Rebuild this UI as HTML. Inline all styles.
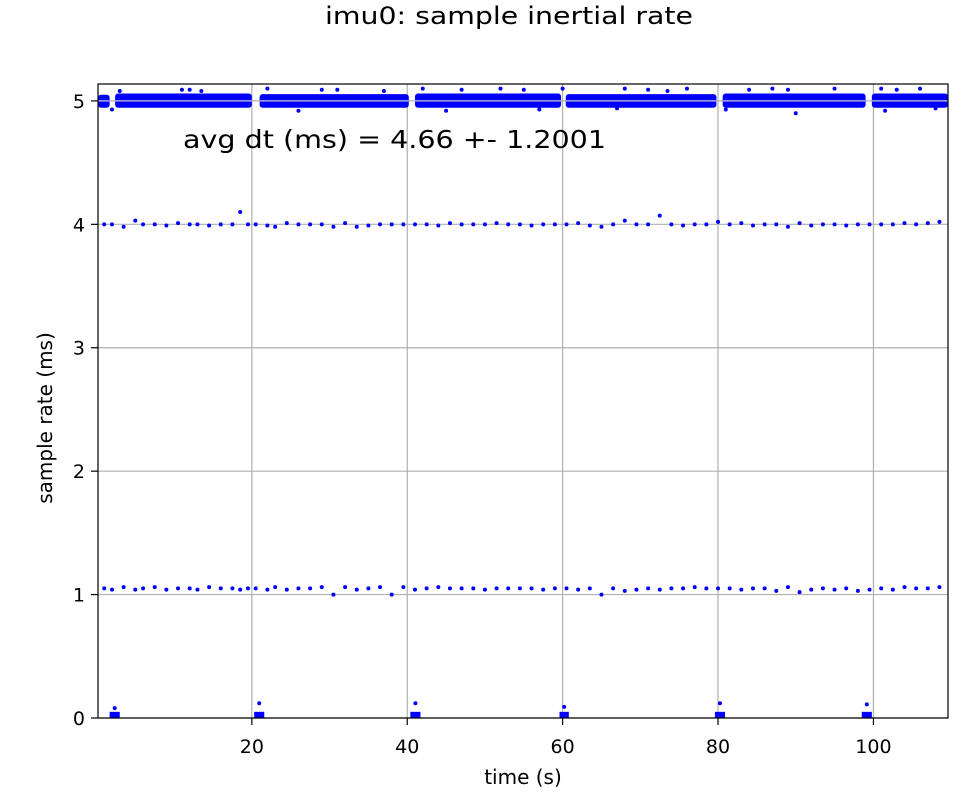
<!DOCTYPE html>
<html><head><meta charset="utf-8"><style>
body{margin:0;background:#fff;font-family:"Liberation Sans","DejaVu Sans",sans-serif;}
svg text{font-family:"DejaVu Sans","Liberation Sans",sans-serif;}
</style></head><body>
<svg id="chart" width="963" height="799" xmlns="http://www.w3.org/2000/svg">
<rect width="963" height="799" fill="#fff"/>
<text x="325" y="24" font-size="24" textLength="368" lengthAdjust="spacingAndGlyphs">imu0: sample inertial rate</text>
<g id="grid"></g>
<g id="marks"></g>
<rect x="98" y="84" width="850" height="634" fill="none" stroke="#000" stroke-width="1.2"/>
<g id="ticks"></g>
<text x="183" y="148" font-size="25" textLength="423" lengthAdjust="spacingAndGlyphs">avg dt (ms) = 4.66 +- 1.2001</text>
<text x="523" y="784" font-size="20" text-anchor="middle">time (s)</text>
<text transform="translate(52,418) rotate(-90)" font-size="20" text-anchor="middle">sample rate (ms)</text>
</svg>
<script>
const xTicks=[20,40,60,80,100];
const yTicks=[0,1,2,3,4,5];
// dense band segments near 5 ms: [start, end]
const bandStart=[0.2,2.4,21.0,41.0,60.4,80.6,99.8];
const bandEnd=[1.7,20.0,40.2,59.8,79.8,99.0,109.6];
const bandLow=[4.945,4.945,4.945,4.945,4.945,4.945,4.945];
const bandHigh=[5.05,5.06,5.055,5.06,5.055,5.06,5.06];
// outliers around band
const outT=[3,11,12,13.5,22,29,31,37,42,47,52,55,60,68,71,73.5,76,84,87,89,95,101,103,106,2,26,45,57,67,81,90,101.5,108];
const outV=[5.08,5.09,5.09,5.08,5.1,5.09,5.09,5.08,5.1,5.09,5.1,5.09,5.1,5.1,5.09,5.08,5.1,5.09,5.1,5.09,5.1,5.1,5.09,5.1,4.93,4.92,4.92,4.93,4.94,4.93,4.9,4.92,4.94];
// level near 4 ms
const l4T=[1,2,3.5,5,6,7.5,9,10.5,12,13,14.5,16,17.5,18.5,19.5,20.5,22,23,24.5,26,27.5,29,30.5,32,33.5,35,36.5,38,39.5,41,42.5,44,45.5,47,48.5,50,51.5,53,54.5,56,57.5,59,60.5,62,63.5,65,66.5,68,69.5,71,72.5,74,75.5,77,78.5,80,81.5,83,84.5,86,87.5,89,90.5,92,93.5,95,96.5,98,99.5,101,102.5,104,105.5,107,108.5];
const l4V=[4.0,4.0,3.98,4.03,4.0,4.0,3.99,4.01,4.0,4.0,3.99,4.0,4.0,4.1,4.0,4.0,3.99,3.98,4.01,4.0,4.0,4.0,3.98,4.01,3.98,3.99,4.0,4.0,4.0,4.0,4.0,3.99,4.01,4.0,4.0,4.0,4.01,4.0,4.0,3.99,4.0,4.0,4.0,4.01,3.99,3.98,4.0,4.03,4.0,4.0,4.07,4.0,3.99,4.0,4.0,4.02,4.0,4.01,3.99,4.0,4.0,3.98,4.01,3.99,4.0,4.0,3.99,4.0,4.0,4.0,4.0,4.01,4.0,4.01,4.02];
// level near 1 ms
const l1T=[1,2,3.5,5,6,7.5,9,10.5,12,13,14.5,16,17.5,18.5,19.5,20.5,22,23,24.5,26,27.5,29,30.5,32,33.5,35,36.5,38,39.5,41,42.5,44,45.5,47,48.5,50,51.5,53,54.5,56,57.5,59,60.5,62,63.5,65,66.5,68,69.5,71,72.5,74,75.5,77,78.5,80,81.5,83,84.5,86,87.5,89,90.5,92,93.5,95,96.5,98,99.5,101,102.5,104,105.5,107,108.5];
const l1V=[1.05,1.04,1.06,1.04,1.05,1.06,1.04,1.05,1.05,1.04,1.06,1.05,1.05,1.04,1.05,1.05,1.04,1.06,1.04,1.05,1.05,1.06,1.0,1.06,1.04,1.05,1.06,1.0,1.06,1.04,1.05,1.06,1.05,1.05,1.05,1.04,1.05,1.05,1.05,1.05,1.04,1.05,1.05,1.04,1.05,1.0,1.05,1.03,1.04,1.05,1.04,1.05,1.05,1.06,1.05,1.05,1.05,1.04,1.05,1.05,1.03,1.06,1.02,1.04,1.05,1.04,1.05,1.03,1.04,1.05,1.04,1.06,1.05,1.05,1.06];
// clusters near 0 ms: [start, end, max]
const clStart=[1.7,20.3,40.4,59.6,79.6,98.5];
const clEnd=[3.0,21.6,41.7,60.8,80.9,99.8];
const clTop=[0.08,0.12,0.12,0.09,0.12,0.11];

const X0=0.2,X1=109.6,Y0=0,Y1=5.137;
const PL=98,PR=948,PT=84,PB=718;
const xs=v=>PL+(v-X0)/(X1-X0)*(PR-PL);
const ys=v=>PB-(v-Y0)/(Y1-Y0)*(PB-PT);
const NS='http://www.w3.org/2000/svg';
function mk(tag,attrs,parent){const e=document.createElementNS(NS,tag);for(const k in attrs)e.setAttribute(k,attrs[k]);parent.appendChild(e);return e;}
const grid=document.getElementById('grid'),marks=document.getElementById('marks'),ticks=document.getElementById('ticks');
xTicks.forEach(t=>{
  const l=mk('line',{x1:xs(t),x2:xs(t),y1:PT,y2:PB,stroke:'#b0b0b0','stroke-width':1.2},grid);
  
  
  const tk=mk('line',{x1:xs(t),x2:xs(t),y1:PB,y2:PB+7,stroke:'#000','stroke-width':1.2},ticks);
  
  
  const tx=mk('text',{x:xs(t),y:PB+35,'font-size':19,'text-anchor':'middle'},ticks);
  tx.textContent=t;
  
  
});
yTicks.forEach(t=>{
  const l=mk('line',{x1:PL,x2:PR,y1:ys(t),y2:ys(t),stroke:'#b0b0b0','stroke-width':1.2},grid);
  
  
  const tk=mk('line',{x1:PL-7,x2:PL,y1:ys(t),y2:ys(t),stroke:'#000','stroke-width':1.2},ticks);
  
  
  const tx=mk('text',{x:PL-13,y:ys(t)+7,'font-size':19,'text-anchor':'end'},ticks);
  tx.textContent=t;
  
  
});
bandStart.forEach((s,i)=>{
  const r=mk('rect',{x:xs(s),width:xs(bandEnd[i])-xs(s),y:ys(bandHigh[i]),height:ys(bandLow[i])-ys(bandHigh[i]),fill:'#0000ff',rx:3},marks);
  
  
  const g=mk('line',{x1:xs(s),x2:xs(bandEnd[i]),y1:ys(5),y2:ys(5),stroke:'#a8a8d8','stroke-width':1.5},marks);
  
  
});
function dot(t,v,name){
  const c=mk('circle',{cx:xs(t),cy:ys(v),r:2,fill:'#0000ff'},marks);
  
  
}
outT.forEach((t,i)=>dot(t,outV[i],'band-outlier'));
l4T.forEach((t,i)=>dot(t,l4V[i],'point-4ms'));
l1T.forEach((t,i)=>dot(t,l1V[i],'point-1ms'));
clStart.forEach((s,i)=>{
  const r=mk('rect',{x:xs(s),width:xs(clEnd[i])-xs(s),y:ys(0.05),height:ys(0)-ys(0.05),fill:'#0000ff'},marks);
  
  
  dot((s+clEnd[i])/2,clTop[i],'cluster-outlier');
});
</script>
</body></html>
